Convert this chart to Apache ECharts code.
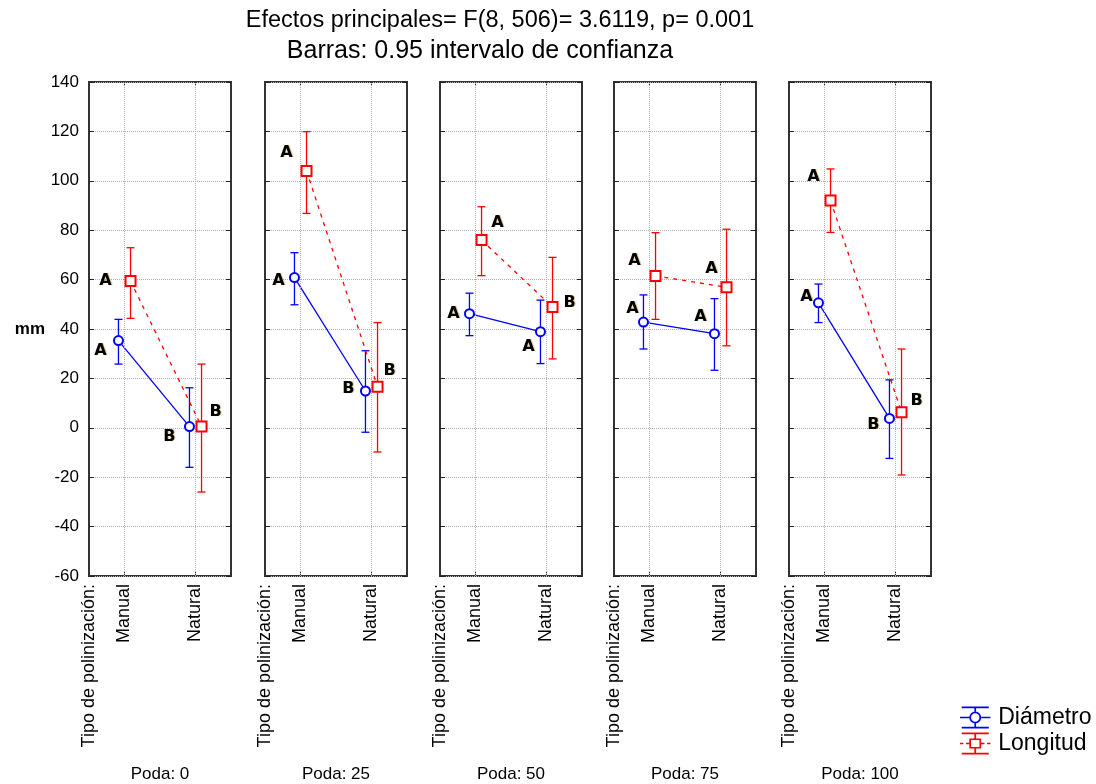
<!DOCTYPE html>
<html lang="es">
<head>
<meta charset="utf-8">
<title>Efectos principales - Poda x Tipo de polinización</title>
<script src="https://cdn.jsdelivr.net/npm/echarts@6/dist/echarts.min.js"></script>
<style>
  html, body { margin: 0; padding: 0; background: #fff; }
  #main { width: 1096px; height: 784px; }
</style>
</head>
<body>
<div id="main"></div>
<script type="text/javascript">
    // datos (mm), por panel de poda: [Manual, Natural]
    var podas = ['Poda: 0', 'Poda: 25', 'Poda: 50', 'Poda: 75', 'Poda: 100'];
    var categorias = ['Manual', 'Natural'];
    var ejeNombre = 'Tipo de polinización:';

    var diamMedia = [[35.3, 0.5], [60.8, 14.9], [46.2, 38.9], [42.8, 38.1], [50.6, 3.8]];
    var diamInf   = [[25.8, -16], [49.8, -1.8], [37.3, 26.0], [31.9, 23.3], [42.6, -12.4]];
    var diamSup   = [[43.9, 16.2], [70.9, 31.2], [54.5, 51.7], [53.8, 52.3], [58.2, 19.4]];

    var longMedia = [[59.4, 0.5], [104, 16.6], [76.0, 48.9], [61.5, 56.9], [92.0, 6.3]];
    var longInf   = [[44.3, -26], [86.8, -9.8], [61.6, 27.9], [43.9, 33.2], [79.1, -19.1]];
    var longSup   = [[72.9, 25.8], [119.9, 42.6], [89.5, 69.0], [79.0, 80.4], [104.8, 31.9]];

    var diamLetras = [['A', 'B'], ['A', 'B'], ['A', 'A'], ['A', 'A'], ['A', 'B']];
    var longLetras = [['A', 'B'], ['A', 'B'], ['A', 'B'], ['A', 'A'], ['A', 'B']];

    var yMin = -60, yMax = 140, yPaso = 20;

    // posicion de las letras respecto al punto (px)
    var diamOff = [[[-18, 10], [-20, 10]], [[-16, 3], [-17, -2]], [[-16, 0], [-12, 15]], [[-11, -13], [-14, -17]], [[-12, -6], [-16, 6]]];
    var longOff = [[[-25, 0], [14, -15]], [[-20, -18], [12, -16]], [[16, -17], [17, -4]], [[-21, -15], [-15, -18]], [[-17, -24], [15, -11]]];

    var AZUL = '#0000ff', ROJO = '#ff0000';
    var FUENTE = 'Liberation Sans, Arial, sans-serif';
    var posX = [1, 3];      // posicion de cada categoria en el eje (0..4)
    var desp = 0.17;        // separacion entre series
    var lefts = [89, 265, 440, 614, 789];

    var iconoDiam = 'path://M2 0H34V2H2Z M2 24H34V26H2Z M17 2H19V6H17Z M17 20H19V24H17Z M0 12H11V14H0Z M25 12H36V14H25Z ' +
        'M11 13A7 7 0 1 0 25 13A7 7 0 1 0 11 13Z M13 13A5 5 0 1 1 23 13A5 5 0 1 1 13 13Z';
    var iconoLong = 'path://M2 0H34V2H2Z M2 24H34V26H2Z M17 2H19V7H17Z M17 19H19V24H17Z M0 12H4V14H0Z M7 12H11V14H7Z M25 12H29V14H25Z M32 12H36V14H32Z ' +
        'M11 7H25V9H11Z M11 17H25V19H11Z M11 7H13V19H11Z M23 7H25V19H23Z';

    function barras(color) {
        return function (params, api) {
            var x = api.value(0);
            var a = api.coord([x, api.value(1)]);
            var b = api.coord([x, api.value(2)]);
            var w = 4;
            var st = {stroke: color, lineWidth: 1.3};
            return {
                type: 'group',
                children: [
                    {type: 'line', shape: {x1: a[0], y1: a[1], x2: b[0], y2: b[1]}, style: st},
                    {type: 'line', shape: {x1: a[0] - w, y1: a[1], x2: a[0] + w, y2: a[1]}, style: st},
                    {type: 'line', shape: {x1: b[0] - w, y1: b[1], x2: b[0] + w, y2: b[1]}, style: st}
                ]
            };
        };
    }

    function letra(txt, off) {
        return {
            show: true, formatter: txt, position: 'inside', offset: off,
            color: '#000', fontSize: 16, fontWeight: 'bold', fontFamily: 'DejaVu Sans, sans-serif',
            textShadowColor: 'rgba(160,120,0,0.45)', textShadowBlur: 1, textShadowOffsetX: 1
        };
    }

    var grids = [], xAxes = [], yAxes = [], series = [];

    podas.forEach(function (poda, i) {
        grids.push({left: lefts[i], top: 82, width: 142, height: 494, show: true,
            outerBoundsMode: 'none', containLabel: false,
            borderColor: '#333', borderWidth: 2, backgroundColor: '#fff'});

        // eje inferior
        xAxes.push({
            gridIndex: i, type: 'value', min: 0, max: 4, interval: 1,
            name: poda, nameLocation: 'middle', nameGap: 190,
            nameTextStyle: {color: '#000', fontSize: 17, fontFamily: FUENTE},
            axisLine: {show: false, onZero: false}, splitLine: {show: false},
            axisTick: {show: true, inside: true, length: 4, customValues: posX, lineStyle: {color: '#333'}},
            axisLabel: {
                rotate: 90, margin: 8, color: '#000', fontSize: 18, fontFamily: FUENTE,
                customValues: [0, 1, 3],
                formatter: function (v) {
                    if (v === 0) return ejeNombre;
                    if (v === 1) return categorias[0];
                    if (v === 3) return categorias[1];
                    return '';
                }
            }
        });
        // eje superior (solo marcas)
        xAxes.push({
            gridIndex: i, type: 'value', min: 0, max: 4, position: 'top',
            axisLine: {show: false, onZero: false}, splitLine: {show: false}, axisLabel: {show: false},
            axisTick: {show: true, inside: true, length: 4, customValues: posX, lineStyle: {color: '#333'}}
        });

        yAxes.push({
            gridIndex: i, type: 'value', min: yMin, max: yMax, interval: yPaso,
            name: i === 0 ? 'mm' : '', nameLocation: 'middle', nameRotate: 0, nameGap: 44,
            nameTextStyle: {color: '#000', fontSize: 17, fontWeight: 'bold', fontFamily: FUENTE},
            axisLine: {show: false, onZero: false},
            axisTick: {show: true, inside: true, length: 5, lineStyle: {color: '#222'}},
            axisLabel: {show: i === 0, color: '#000', fontSize: 17, margin: 10, fontFamily: FUENTE},
            splitLine: {show: true, lineStyle: {type: 'dotted', color: '#b0b0b0', width: 1}}
        });
        yAxes.push({
            gridIndex: i, type: 'value', min: yMin, max: yMax, interval: yPaso, position: 'right',
            axisLine: {show: false, onZero: false}, axisLabel: {show: false}, splitLine: {show: false},
            axisTick: {show: true, inside: true, length: 5, lineStyle: {color: '#222'}}
        });

        var xa = i * 2, ya = i * 2;

        series.push({
            name: 'Diámetro', type: 'custom', xAxisIndex: xa, yAxisIndex: ya, silent: true,
            renderItem: barras(AZUL), itemStyle: {color: AZUL},
            data: posX.map(function (p, k) { return [p - desp, diamInf[i][k], diamSup[i][k]]; }),
            z: 3
        });
        series.push({
            name: 'Diámetro', type: 'line', xAxisIndex: xa, yAxisIndex: ya, silent: true,
            symbol: 'emptyCircle', symbolSize: 9, color: AZUL,
            lineStyle: {color: AZUL, width: 1.3}, itemStyle: {color: AZUL, borderWidth: 1.5},
            data: posX.map(function (p, k) {
                return {value: [p - desp, diamMedia[i][k]], label: letra(diamLetras[i][k], diamOff[i][k])};
            }),
            markLine: {
                silent: true, symbol: 'none', label: {show: false},
                lineStyle: {type: 'dotted', color: '#b0b0b0', width: 1},
                data: posX.map(function (p) { return {xAxis: p}; })
            },
            z: 4
        });
        series.push({
            name: 'Longitud', type: 'custom', xAxisIndex: xa, yAxisIndex: ya, silent: true,
            renderItem: barras(ROJO), itemStyle: {color: ROJO},
            data: posX.map(function (p, k) { return [p + desp, longInf[i][k], longSup[i][k]]; }),
            z: 5
        });
        series.push({
            name: 'Longitud', type: 'line', xAxisIndex: xa, yAxisIndex: ya, silent: true,
            symbol: 'emptyRect', symbolSize: 10, color: ROJO,
            lineStyle: {color: ROJO, width: 1.3, type: [4, 5]}, itemStyle: {color: ROJO, borderWidth: 1.5},
            data: posX.map(function (p, k) {
                return {value: [p + desp, longMedia[i][k]], label: letra(longLetras[i][k], longOff[i][k])};
            }),
            z: 6
        });
    });

    var myChart = echarts.init(document.getElementById('main'));
    var option = {
        backgroundColor: '#fff',
        animation: false,
        title: [
            {text: 'Efectos principales= F(8, 506)= 3.6119, p= 0.001', left: 495, top: 4, textAlign: 'center',
                textStyle: {color: '#000', fontSize: 23.5, fontWeight: 'normal', fontFamily: FUENTE}},
            {text: 'Barras: 0.95 intervalo de confianza', left: 475, top: 34, textAlign: 'center',
                textStyle: {color: '#000', fontSize: 25, fontWeight: 'normal', fontFamily: FUENTE}}
        ],
        legend: {
            orient: 'vertical', left: 955, top: 701, itemWidth: 36, itemHeight: 22, itemGap: 3,
            textStyle: {color: '#000', fontSize: 23, fontFamily: FUENTE},
            data: [{name: 'Diámetro', icon: iconoDiam}, {name: 'Longitud', icon: iconoLong}]
        },
        grid: grids,
        xAxis: xAxes,
        yAxis: yAxes,
        series: series
    };
    myChart.setOption(option);
</script>
</body>
</html>
